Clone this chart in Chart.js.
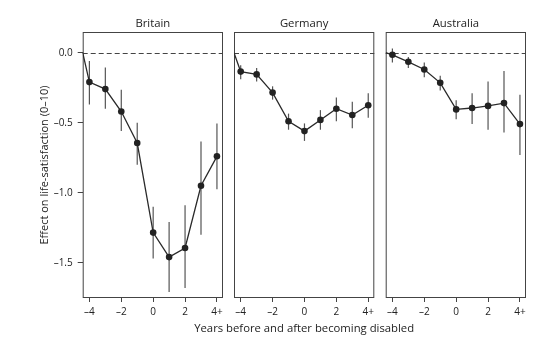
<!DOCTYPE html>
<html>
<head>
<meta charset="utf-8">
<script src="https://cdn.jsdelivr.net/npm/chart.js@4/dist/chart.umd.min.js"></script>
<style>
  html, body { margin: 0; padding: 0; background: #fff; }
  #wrap { position: relative; width: 554px; height: 347px; }
  #wrap canvas { position: absolute; left: 0; top: 0; }
</style>
</head>
<body>
<div id="wrap">
  <canvas id="c-britain" width="554" height="347"></canvas>
  <canvas id="c-germany" width="554" height="347"></canvas>
  <canvas id="c-australia" width="554" height="347"></canvas>
</div>
<script>
// years relative to onset of disability (4 = "4+")
const years = [-4, -3, -2, -1, 0, 1, 2, 3, 4]
const xTicks = [-4, -2, 0, 2, 4]
const yTicks = [0, -0.5, -1, -1.5]

const britain   = [-0.21, -0.26, -0.42, -0.645, -1.285, -1.46, -1.395, -0.95, -0.74]
const britainLo = [-0.37, -0.40, -0.56, -0.80, -1.47, -1.71, -1.68, -1.30, -0.975]
const britainHi = [-0.06, -0.105, -0.265, -0.50, -1.10, -1.21, -1.09, -0.635, -0.505]

const germany   = [-0.135, -0.155, -0.285, -0.49, -0.56, -0.48, -0.40, -0.445, -0.375]
const germanyLo = [-0.19, -0.205, -0.335, -0.55, -0.63, -0.55, -0.49, -0.54, -0.465]
const germanyHi = [-0.09, -0.11, -0.24, -0.435, -0.505, -0.41, -0.32, -0.35, -0.29]

const australia   = [-0.015, -0.065, -0.12, -0.215, -0.405, -0.395, -0.38, -0.36, -0.51]
const australiaLo = [-0.07, -0.11, -0.175, -0.27, -0.475, -0.51, -0.55, -0.57, -0.73]
const australiaHi = [0.03, -0.03, -0.07, -0.165, -0.34, -0.29, -0.205, -0.13, -0.30]

const xTitle = 'Years before and after becoming disabled'
const yTitle = 'Effect on life-satisfaction (0\u201310)'

const xMin = -4.42, xMax = 4.38
const yMin = -1.752, yMax = 0.148

const font = "'Open Sans', 'DejaVu Sans', sans-serif"
const ink = '#2a2a2a'

function fmt(v) {
  if (v === 4) return '4+'
  let s = Math.abs(v).toString()
  return v < 0 ? '\u2013' + s : s
}
function fmtY(v) {
  let s = Math.abs(v).toFixed(1)
  return v < 0 ? '\u2013' + s : s
}

// error bars, zero line and panel frame
const panelDeco = {
  id: 'panelDeco',
  beforeDatasetsDraw(chart) {
    const {ctx, chartArea: a, scales: {x, y}} = chart
    ctx.save()
    ctx.strokeStyle = '#444'
    ctx.lineWidth = 1
    ctx.setLineDash([5, 3])
    let y0 = Math.round(y.getPixelForValue(0)) + 0.5
    ctx.beginPath()
    ctx.moveTo(a.left, y0)
    ctx.lineTo(a.right, y0)
    ctx.stroke()
    ctx.setLineDash([])
    ctx.strokeStyle = '#555'
    ctx.lineWidth = 1.2
    const ds = chart.data.datasets[0]
    ds.lo.forEach((lo, i) => {
      let px = x.getPixelForValue(years[i])
      ctx.beginPath()
      ctx.moveTo(px, y.getPixelForValue(lo))
      ctx.lineTo(px, y.getPixelForValue(ds.hi[i]))
      ctx.stroke()
    })
    ctx.strokeStyle = '#444'
    ctx.lineWidth = 1
    ctx.strokeRect(a.left + 0.5, a.top + 0.5, a.right - a.left - 1, a.bottom - a.top - 1)
    ctx.restore()
  },
  afterDraw(chart, args, opts) {
    if (!opts.text) return
    const {ctx, chartArea: a} = chart
    ctx.save()
    ctx.fillStyle = '#222'
    ctx.font = '11.3px ' + font
    ctx.textAlign = 'center'
    ctx.textBaseline = 'middle'
    ctx.fillText(opts.text, (a.left + a.right) / 2, 328.5)
    ctx.restore()
  }
}

function makePanel(id, name, vals, lo, hi, padLeft, padRight, first, middle) {
  const pts = [{x: xMin, y: 0}].concat(years.map((yr, i) => ({x: yr, y: vals[i]})))
  const radius = pts.map((p, i) => i === 0 ? 0 : 3.3)
  new Chart(document.getElementById(id), {
    type: 'line',
    data: {
      datasets: [{
        data: pts,
        lo: lo,
        hi: hi,
        borderColor: ink,
        borderWidth: 1.3,
        backgroundColor: '#222',
        pointRadius: radius,
        pointBorderWidth: 0,
        tension: 0
      }]
    },
    options: {
      responsive: false,
      animation: false,
      events: [],
      layout: { padding: { left: padLeft, right: padRight, top: 0, bottom: 4 } },
      plugins: {
        legend: { display: false },
        tooltip: { enabled: false },
        panelDeco: { text: middle ? xTitle : '' }
      },
      scales: {
        x: {
          type: 'linear',
          min: xMin,
          max: xMax,
          afterBuildTicks: s => { s.ticks = xTicks.map(v => ({value: v})) },
          afterFit: s => { s.height = 45 },
          ticks: {
            callback: v => fmt(v),
            color: '#222',
            font: { family: font, size: 10 },
            padding: 4,
            maxRotation: 0
          },
          grid: { drawOnChartArea: false, drawTicks: true, tickLength: 4, color: '#444' },
          border: { display: false }
        },
        top: {
          type: 'linear',
          position: 'top',
          min: xMin,
          max: xMax,
          afterFit: s => { s.height = 32 },
          ticks: { display: false },
          grid: { display: false },
          border: { display: false },
          title: {
            display: true,
            text: name,
            color: '#222',
            font: { family: font, size: 11.3 },
            padding: { top: 17, bottom: 0 }
          }
        },
        y: {
          display: first,
          min: yMin,
          max: yMax,
          afterBuildTicks: s => { s.ticks = yTicks.map(v => ({value: v})) },
          afterFit: s => { if (first) s.width = 82.7 },
          ticks: {
            callback: v => fmtY(v),
            color: '#222',
            font: { family: font, size: 10 },
            padding: 5
          },
          grid: { drawOnChartArea: false, drawTicks: true, tickLength: 5, color: '#444' },
          border: { display: false },
          title: {
            display: true,
            text: yTitle,
            color: '#222',
            font: { family: font, size: 11 },
            padding: { top: 38, bottom: 0 }
          }
        }
      }
    },
    plugins: [panelDeco]
  })
}

makePanel('c-britain', 'Britain', britain, britainLo, britainHi, 0, 331, true, false)
makePanel('c-germany', 'Germany', germany, germanyLo, germanyHi, 234, 179.7, false, true)
makePanel('c-australia', 'Australia', australia, australiaLo, australiaHi, 385.7, 28, false, false)
</script>
</body>
</html>
